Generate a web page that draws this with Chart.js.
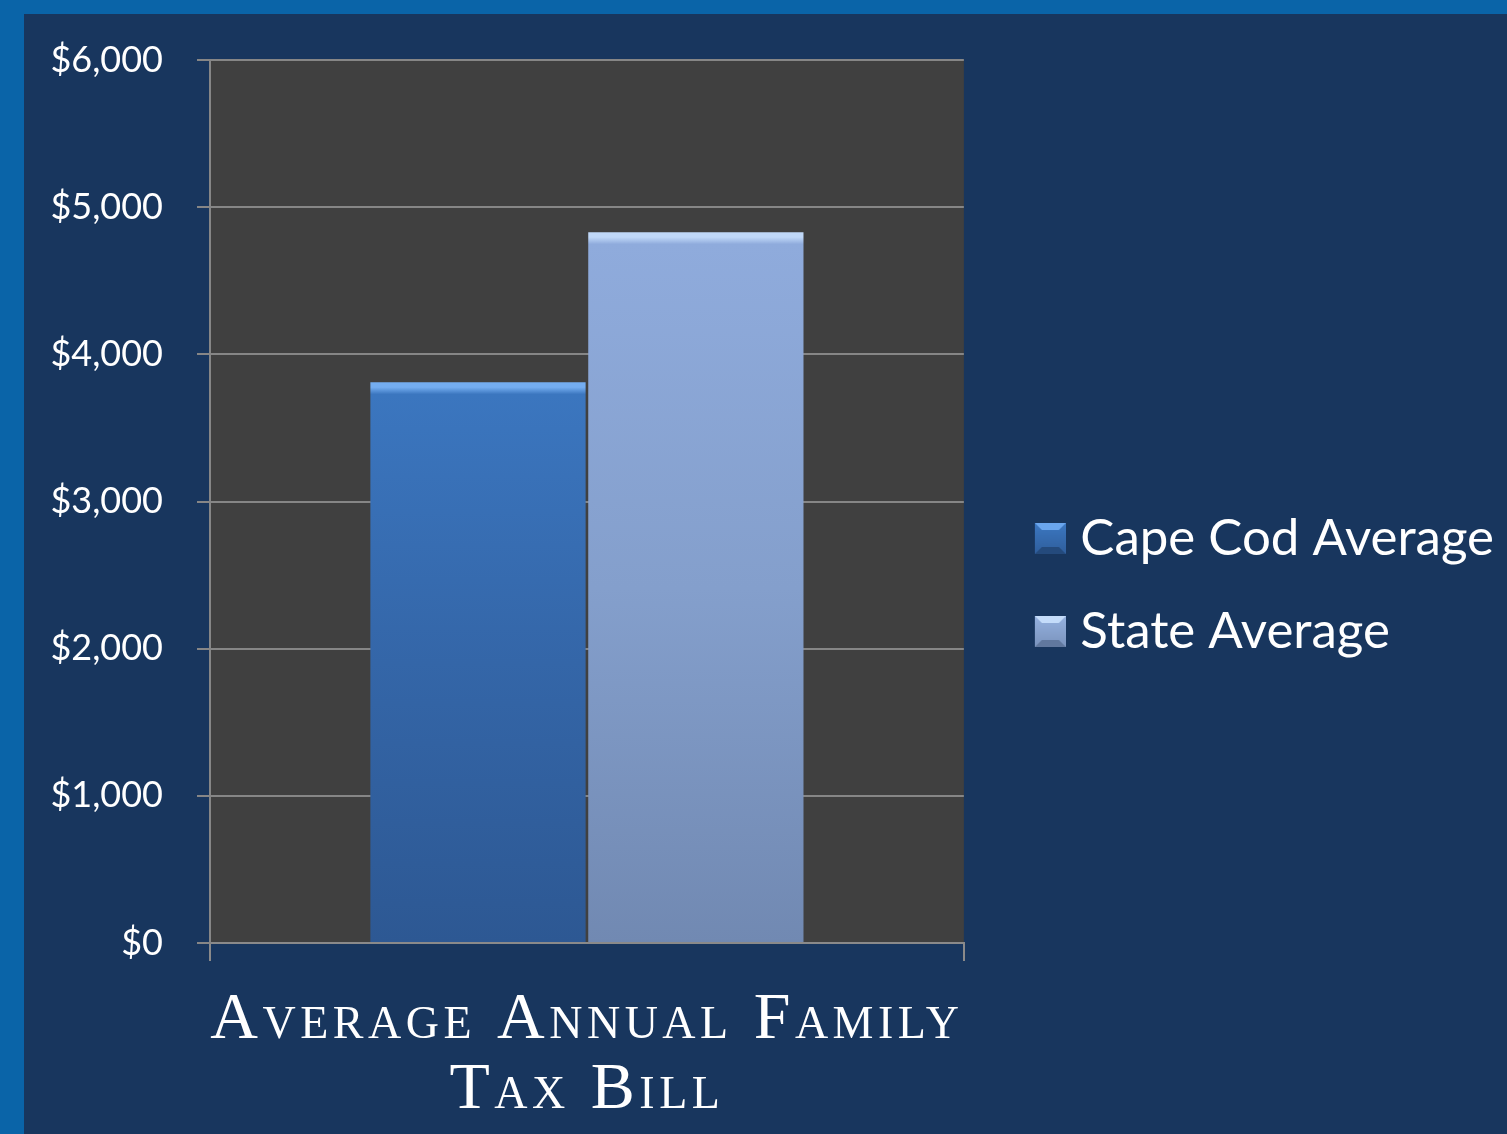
<!DOCTYPE html>
<html lang="en">
<head>
  <meta charset="UTF-8">
  <title>Average Annual Family Tax Bill</title>
  <script src="https://cdn.jsdelivr.net/npm/chart.js"></script>
  <style>
    html, body { margin: 0; padding: 0; background: #0a64a8; overflow: hidden; }
    .frame {
      position: absolute; left: 24px; top: 14px;
      width: 1483px; height: 1120px; background: #18365e;
    }
  </style>
</head>
<body>
  <div class="frame">
    <canvas id="taxChart" width="1483" height="1120"></canvas>
  </div>

  <script>
  const categories = [['Average Annual Family', 'Tax Bill']];
  const seriesNames = ['Cape Cod Average', 'State Average'];
  const capeCod = [3810];
  const stateAvg = [4830];
  const yTicks = [0, 1000, 2000, 3000, 4000, 5000, 6000];

  // vertical gradient for each bar, with a light bevel strip at the top
  const barFill = (top, mid, bottom, edge) => ctx => {
    const chart = ctx.chart;
    const area = chart.chartArea;
    if (!area || ctx.dataIndex === undefined) return mid;
    const y0 = chart.scales.y.getPixelForValue(ctx.dataset.data[ctx.dataIndex]);
    const h = area.bottom - y0;
    const g = chart.ctx.createLinearGradient(0, y0, 0, area.bottom);
    const s = 10 / h;
    g.addColorStop(0, edge);
    g.addColorStop(s * 0.5, edge);
    g.addColorStop(s * 1.2, top);
    g.addColorStop(0.5, mid);
    g.addColorStop(1, bottom);
    return g;
  };

  // bevelled legend square, drawn at the right end of a wider transparent image
  const swatch = (top, bottom, light, dark) => {
    const c = document.createElement('canvas');
    c.width = 71; c.height = 31;
    const g = c.getContext('2d');
    const x = 40, w = 31, b = 7;
    const grad = g.createLinearGradient(0, 0, 0, w);
    grad.addColorStop(0, top);
    grad.addColorStop(1, bottom);
    g.fillStyle = grad;
    g.fillRect(x, 0, w, w);
    g.fillStyle = light;
    g.beginPath();
    g.moveTo(x, 0); g.lineTo(x + w, 0); g.lineTo(x + w - b, b); g.lineTo(x + b, b);
    g.fill();
    g.fillStyle = dark;
    g.beginPath();
    g.moveTo(x, w); g.lineTo(x + w, w); g.lineTo(x + w - b, w - b); g.lineTo(x + b, w - b);
    g.fill();
    return c;
  };
  const swatches = [
    swatch('#3c78c2', '#2f5e9c', '#6aa6ee', '#244a7c'),
    swatch('#95b2e0', '#7a93bc', '#c4dcfa', '#61789e')
  ];

  const plotBackground = {
    id: 'plotBackground',
    beforeDraw(chart) {
      const { ctx, chartArea: a } = chart;
      ctx.save();
      ctx.fillStyle = '#404040';
      ctx.fillRect(a.left, a.top, a.right - a.left, a.bottom - a.top);
      ctx.restore();
    },
    // the category title is drawn after the bars (ticks.z = 1), spread a little
    afterDatasetsDraw(chart) { chart.ctx.letterSpacing = '4.5px'; },
    afterDraw(chart) { chart.ctx.letterSpacing = '0px'; }
  };

  new Chart(document.getElementById('taxChart'), {
    type: 'bar',
    data: {
      labels: categories,
      datasets: [{
        label: seriesNames[0],
        data: capeCod,
        backgroundColor: barFill('#3b76bf', '#3466a8', '#2d5893', '#74adf0'),
        categoryPercentage: 0.578,
        barPercentage: 0.988
      }, {
        label: seriesNames[1],
        data: stateAvg,
        backgroundColor: barFill('#8fabdc', '#849fcc', '#7189b2', '#c0d8f8'),
        categoryPercentage: 0.578,
        barPercentage: 0.988
      }]
    },
    options: {
      responsive: false,
      animation: false,
      layout: { padding: { top: 22, left: 0, right: 3, bottom: 0 } },
      plugins: {
        tooltip: { enabled: false },
        legend: {
          position: 'right',
          maxWidth: 700,
          labels: {
            color: '#ffffff',
            font: { family: 'Lato', size: 51 },
            usePointStyle: true,
            pointStyleWidth: 49,
            boxHeight: 31,
            padding: 42,
            generateLabels: chart => chart.data.datasets.map((d, i) => ({
              text: d.label,
              pointStyle: swatches[i],
              fillStyle: 'transparent',
              strokeStyle: 'transparent',
              lineWidth: 0,
              fontColor: '#ffffff',
              datasetIndex: i,
              hidden: false
            }))
          }
        }
      },
      scales: {
        x: {
          afterFit: axis => { axis.height = 191; },
          grid: {
            drawOnChartArea: false,
            color: '#8a8a8a',
            lineWidth: 2,
            tickLength: 18
          },
          border: { color: '#8a8a8a', width: 2 },
          ticks: {
            z: 1,
            color: '#ffffff',
            padding: 25,
            maxRotation: 0,
            font: { family: "'Liberation Serif', serif", size: 66, weight: 'small-caps', lineHeight: 1.06 }
          }
        },
        y: {
          min: 0,
          max: 6000,
          afterBuildTicks: axis => { axis.ticks = yTicks.map(v => ({ value: v })); },
          afterFit: axis => { axis.width = 186; axis.paddingTop = 46; axis.paddingBottom = 0; },
          grid: { color: '#868686', lineWidth: 2, tickLength: 13 },
          border: { color: '#868686', width: 2 },
          ticks: {
            color: '#ffffff',
            padding: 34,
            font: { family: 'Lato', size: 36 },
            callback: v => '$' + v.toLocaleString('en-US')
          }
        }
      }
    },
    plugins: [plotBackground]
  });
  </script>
</body>
</html>
